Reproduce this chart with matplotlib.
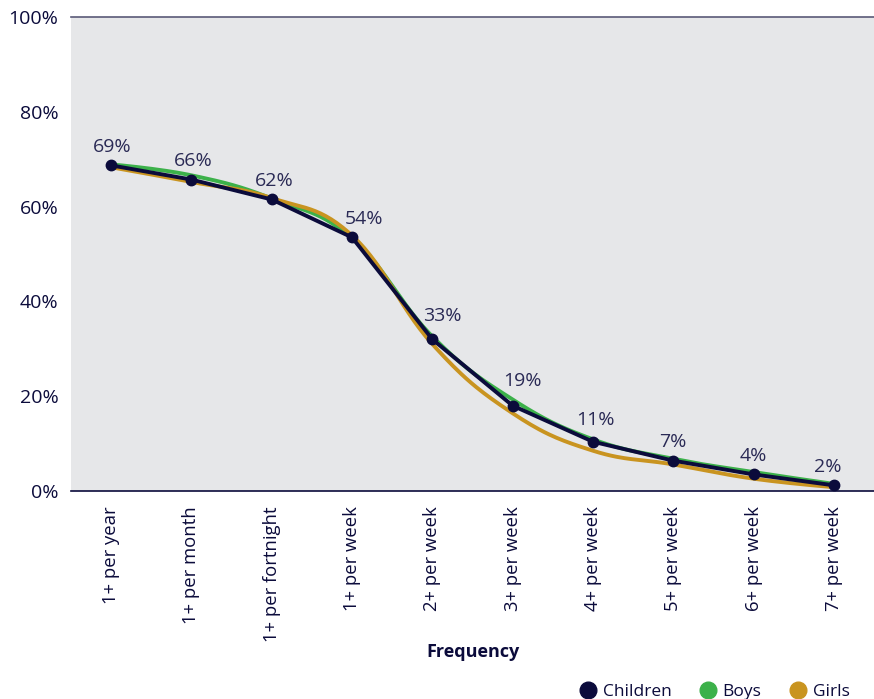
import numpy as np
import matplotlib
matplotlib.use("Agg")
import matplotlib.pyplot as plt
from matplotlib.lines import Line2D

plt.rcParams['font.family'] = ['Open Sans', 'DejaVu Sans']

kategorie = ['1+ per year', '1+ per month', '1+ per fortnight', '1+ per week',
             '2+ per week', '3+ per week', '4+ per week', '5+ per week',
             '6+ per week', '7+ per week']
dzieci = [68.7, 65.7, 61.5, 53.5, 32.0, 18.0, 10.4, 6.4, 3.5, 1.2]
etykiety = ['69%', '66%', '62%', '54%', '33%', '19%', '11%', '7%', '4%', '2%']
chlopcy = [68.9, 66.6, 61.7, 53.3, 32.6, 19.3, 10.9, 6.8, 4.0, 1.5]
dziewczynki = [68.3, 65.2, 61.8, 53.9, 31.0, 16.4, 8.5, 5.6, 2.6, 0.8]

# przesuniecia etykiet (piksele), zeby nie nachodzily na linie
przes_x = [1, 2, 2, 12, 10, 10, 2, 0, 0, -6]
przes_y = [6, 6, 6, 6, 9, 10, 8, 6, 6, 6]

GRANAT = '#0b0b3b'
ZIELONY = '#3cb14a'
ZLOTY = '#c99420'
TLO = '#e6e7e9'


def spline(ys, smoothing=1.5, n=30):
    # wygladzanie w stylu Highcharts (krzywe Beziera)
    xs = np.arange(len(ys), dtype=float)
    ys = np.asarray(ys, dtype=float)
    denom = smoothing + 1
    left = [None] * len(ys)
    right = [None] * len(ys)
    for i in range(len(ys)):
        if i == 0 or i == len(ys) - 1:
            left[i] = (xs[i], ys[i])
            right[i] = (xs[i], ys[i])
            continue
        lx = (smoothing * xs[i] + xs[i - 1]) / denom
        ly = (smoothing * ys[i] + ys[i - 1]) / denom
        rx = (smoothing * xs[i] + xs[i + 1]) / denom
        ry = (smoothing * ys[i] + ys[i + 1]) / denom
        corr = ((ry - ly) * (rx - xs[i])) / (rx - lx) + ys[i] - ry
        ly += corr
        ry += corr
        if ly > ys[i - 1] and ly > ys[i]:
            ly = max(ys[i - 1], ys[i])
            ry = 2 * ys[i] - ly
        elif ly < ys[i - 1] and ly < ys[i]:
            ly = min(ys[i - 1], ys[i])
            ry = 2 * ys[i] - ly
        if ry > ys[i + 1] and ry > ys[i]:
            ry = max(ys[i + 1], ys[i])
            ly = 2 * ys[i] - ry
        elif ry < ys[i + 1] and ry < ys[i]:
            ry = min(ys[i + 1], ys[i])
            ly = 2 * ys[i] - ry
        left[i] = (lx, ly)
        right[i] = (rx, ry)
    t = np.linspace(0, 1, n)
    px, py = [], []
    for i in range(1, len(ys)):
        p0 = (xs[i - 1], ys[i - 1])
        p1 = right[i - 1]
        p2 = left[i]
        p3 = (xs[i], ys[i])
        bx = (1 - t) ** 3 * p0[0] + 3 * (1 - t) ** 2 * t * p1[0] + 3 * (1 - t) * t ** 2 * p2[0] + t ** 3 * p3[0]
        by = (1 - t) ** 3 * p0[1] + 3 * (1 - t) ** 2 * t * p1[1] + 3 * (1 - t) * t ** 2 * p2[1] + t ** 3 * p3[1]
        px.extend(bx)
        py.extend(by)
    return np.array(px), np.array(py)


fig = plt.figure(figsize=(8.74, 6.99), dpi=100)
ax = fig.add_axes([71 / 874, 1 - 491 / 699, 1 - 71 / 874, (491 - 17) / 699])
ax.set_facecolor(TLO)

x = np.arange(len(kategorie))
gx, gy = spline(chlopcy)
ax.plot(gx, gy, color=ZIELONY, lw=2.8, zorder=2)
zx, zy = spline(dziewczynki)
ax.plot(zx, zy, color=ZLOTY, lw=2.8, zorder=3)
ax.plot(x, dzieci, color=GRANAT, lw=2.8, marker='o', ms=7.5, zorder=4)

for xi, yi, t, dx, dy in zip(x, dzieci, etykiety, przes_x, przes_y):
    ax.annotate(t, (xi, yi), xytext=(dx * 0.72, dy + 1), textcoords='offset points',
                ha='center', va='bottom', fontsize=14, color='#2a2a55', zorder=5)

ax.set_xlim(-0.5, len(kategorie) - 0.5)
ax.set_ylim(0, 100)
ax.set_yticks([0, 20, 40, 60, 80, 100])
ax.set_yticklabels(['0%', '20%', '40%', '60%', '80%', '100%'])
ax.set_xticks(x)
ax.set_xticklabels(kategorie, rotation=90)
ax.tick_params(axis='y', length=0, pad=9, labelsize=14, labelcolor=GRANAT)
ax.tick_params(axis='x', length=0, pad=11, labelsize=13.3, labelcolor=GRANAT)

for s in ['left', 'right']:
    ax.spines[s].set_visible(False)
ax.spines['bottom'].set_color(GRANAT)
ax.spines['bottom'].set_linewidth(1.2)
ax.spines['top'].set_color('#5a5a78')
ax.spines['top'].set_linewidth(1.2)

ax.set_xlabel('Frequency', fontsize=13, fontweight='bold', color=GRANAT, labelpad=1)

uchwyty = [Line2D([], [], ls='', marker='o', ms=12, color=c)
           for c in (GRANAT, ZIELONY, ZLOTY)]
fig.legend(uchwyty, ['Children', 'Boys', 'Girls'], loc='lower right',
           bbox_to_anchor=(0.99, -0.024), ncol=3, frameon=False,
           fontsize=12.5, handletextpad=-0.15, columnspacing=1.1, labelcolor=GRANAT)

fig.savefig('out.png', dpi=100)
